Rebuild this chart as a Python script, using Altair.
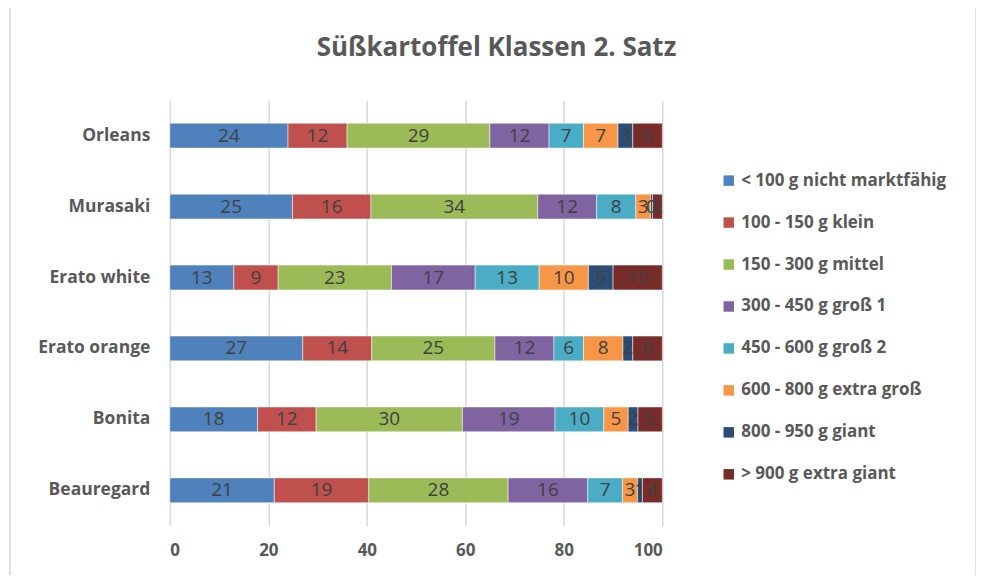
import altair as alt
import pandas as pd

varieties = ["Orleans", "Murasaki", "Erato white", "Erato orange", "Bonita", "Beauregard"]
classes = [
    "< 100 g nicht marktfähig",
    "100 - 150 g klein",
    "150 - 300 g mittel",
    "300 - 450 g groß 1",
    "450 - 600 g groß 2",
    "600 - 800 g extra groß",
    "800 - 950 g giant",
    "> 900 g extra giant",
]
colors = ["#4F81BD", "#C0504D", "#9BBB59", "#8064A2", "#4BACC6", "#F79646", "#2C4D75", "#772C2A"]
title_text = "Süßkartoffel Klassen 2. Satz"

orleans = [24, 12, 29, 12, 7, 7, 3, 6]
murasaki = [25, 16, 34, 12, 8, 3, 0.4, 2]
erato_white = [13, 9, 23, 17, 13, 10, 5, 10]
erato_orange = [27, 14, 25, 12, 6, 8, 2, 6]
bonita = [18, 12, 30, 19, 10, 5, 2, 5]
beauregard = [21, 19, 28, 16, 7, 3, 1, 4]

series = [orleans, murasaki, erato_white, erato_orange, bonita, beauregard]
rows = []
for v, vals in zip(varieties, series):
    for i, (c, val) in enumerate(zip(classes, vals)):
        rows.append({"variety": v, "cls": c, "order": i, "value": val, "label": str(round(val))})
df = pd.DataFrame(rows)

FONT = "Open Sans"
GRAY = "#595959"

base = alt.Chart(df).transform_joinaggregate(
    total="sum(value)", groupby=["variety"]
).transform_calculate(
    pct="datum.value / datum.total * 100"
).transform_stack(
    stack="pct", groupby=["variety"], sort=[alt.SortField("order", order="ascending")],
    as_=["x0", "x1"]
).transform_calculate(
    xm="(datum.x0 + datum.x1) / 2"
)

y_enc = alt.Y("variety:N", sort=varieties, title=None,
              scale=alt.Scale(paddingInner=0.65, paddingOuter=0.325),
              axis=alt.Axis(labelFont=FONT, labelFontSize=17.5, labelFontWeight="bold",
                            labelColor=GRAY, domain=False, ticks=False, labelPadding=20))

bars = base.mark_bar(stroke="white", strokeWidth=0.5).encode(
    x=alt.X("x0:Q", title=None, scale=alt.Scale(domain=[0, 100], nice=False),
            axis=alt.Axis(values=[0, 20, 40, 60, 80, 100], labelFont=FONT, labelFontSize=17,
                          labelFontWeight="bold", labelColor=GRAY, domain=False, ticks=False,
                          grid=True, gridColor="#d9d9d9", gridWidth=1.5, labelPadding=17)),
    x2="x1:Q",
    y=y_enc,
    color=alt.Color("cls:N", sort=classes, title=None,
                    scale=alt.Scale(domain=classes, range=colors),
                    legend=alt.Legend(orient="none", legendX=551, legendY=72,
                                      symbolType="square", symbolSize=110, symbolStrokeWidth=0,
                                      labelFont=FONT, labelFontSize=17, labelFontWeight="bold",
                                      labelColor=GRAY, rowPadding=24, labelOffset=4,
                                      labelLimit=400)),
    order=alt.Order("order:Q"),
)

texts = base.mark_text(font=FONT, fontSize=19, color="#404040", baseline="middle").encode(
    x="xm:Q",
    y=alt.Y("variety:N", sort=varieties),
    text="label:N",
)

frame = alt.Chart(pd.DataFrame({"a": [0]})).mark_rect(
    fill=None, stroke="#d9d9d9", strokeWidth=1.5, clip=False
).encode(x=alt.value(-160), x2=alt.value(807), y=alt.value(-93), y2=alt.value(485))

title = alt.Chart(pd.DataFrame({"t": [title_text]})).mark_text(
    font=FONT, fontSize=26, fontWeight="bold", color=GRAY, align="center", baseline="middle"
).encode(text="t:N", x=alt.value(327), y=alt.value(-52))

chart = alt.layer(frame, bars, texts, title).properties(
    width=493, height=426,
    autosize=alt.AutoSizeParams(type="none"),
    padding={"left": 162, "top": 92, "right": 314, "bottom": 49},
    background="white",
).configure_view(stroke=None)

chart.save("out.html", embed_options={"renderer": "svg", "actions": False})
